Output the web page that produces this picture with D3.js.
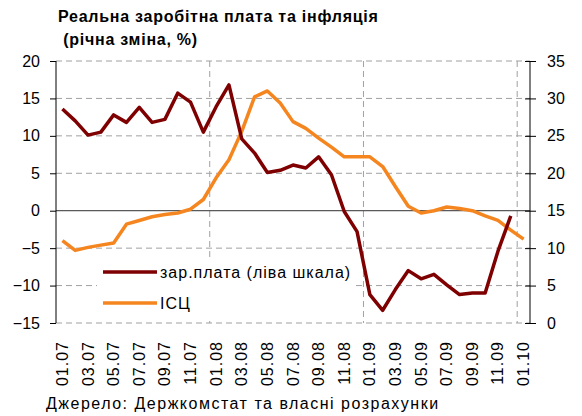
<!DOCTYPE html>
<html>
<head>
<meta charset="utf-8">
<script src="https://cdn.jsdelivr.net/npm/d3@7"></script>
<style>
  body { margin: 0; background: #fff; }
  svg { display: block; font-family: "Liberation Sans", Arial, sans-serif; }
</style>
</head>
<body>
<svg id="chart" width="582" height="416"></svg>
<script>
// months shown on the category axis
var months = ['01.07','02.07','03.07','04.07','05.07','06.07','07.07','08.07','09.07','10.07','11.07','12.07',
  '01.08','02.08','03.08','04.08','05.08','06.08','07.08','08.08','09.08','10.08','11.08','12.08',
  '01.09','02.09','03.09','04.09','05.09','06.09','07.09','08.09','09.09','10.09','11.09','12.09',
  '01.10'];

// real wage, % yoy (left scale)
var wage = [13.6, 12.0, 10.1, 10.5, 12.8, 11.8, 13.8, 11.8, 12.2, 15.7, 14.5, 10.5,
  13.9, 16.8, 9.6, 7.7, 5.1, 5.4, 6.1, 5.7, 7.2, 4.8, -0.1, -2.8,
  -11.2, -13.3, -10.5, -8.0, -9.1, -8.5, -9.9, -11.2, -11.0, -11.0, -5.4, -0.7];

// CPI, % yoy (right scale)
var cpi = [11.0, 9.7, 10.1, 10.4, 10.7, 13.2, 13.7, 14.2, 14.5, 14.7, 15.2, 16.5,
  19.4, 21.8, 25.6, 30.2, 31.0, 29.4, 26.9, 26.0, 24.7, 23.5, 22.2, 22.2,
  22.2, 20.9, 18.2, 15.6, 14.7, 15.0, 15.5, 15.3, 15.0, 14.3, 13.7, 12.4,
  11.2];

var leftTicks = [-15, -10, -5, 0, 5, 10, 15, 20];
var rightTicks = [0, 5, 10, 15, 20, 25, 30, 35];
var yearStarts = ['01.08', '01.09', '01.10'];

var seriesNames = ['зар.плата (ліва шкала)', 'ІСЦ'];
var colours = ['#7f0000', '#f5861f'];

var svg = d3.select('#chart');
var plotLeft = 56, plotRight = 530, plotTop = 61, plotBottom = 323;

var x = d3.scaleBand().domain(months).range([plotLeft, plotRight]).padding(0);
var yL = d3.scaleLinear().domain([-15, 20]).range([plotBottom, plotTop]);
var yR = d3.scaleLinear().domain([0, 35]).range([plotBottom, plotTop]);
var cx = function(i) { return x(months[i]) + x.bandwidth() / 2; };

// title
svg.append('text').attr('x', 58).attr('y', 22)
  .style('font-size', '16px').style('font-weight', 'bold').style('letter-spacing', '0.75px')
  .text('Реальна заробітна плата та інфляція');
svg.append('text').attr('x', 58).attr('y', 45)
  .style('font-size', '16px').style('font-weight', 'bold').style('letter-spacing', '0.75px')
  .attr('xml:space', 'preserve')
  .text(' (річна зміна, %)');

// horizontal grid
svg.append('g').selectAll('line')
  .data(leftTicks.filter(function(d) { return d !== 0; }))
  .enter().append('line')
  .attr('x1', plotLeft).attr('x2', plotRight)
  .attr('y1', function(d) { return yL(d); }).attr('y2', function(d) { return yL(d); })
  .style('stroke', '#a0a0a0').style('stroke-width', 1).style('stroke-dasharray', '6,4');

// vertical grid at year boundaries
svg.append('g').selectAll('line')
  .data(yearStarts)
  .enter().append('line')
  .attr('x1', function(d) { return x(d); }).attr('x2', function(d) { return x(d); })
  .attr('y1', plotTop).attr('y2', plotBottom)
  .style('stroke', '#a0a0a0').style('stroke-width', 1).style('stroke-dasharray', '6,4');

// zero line
svg.append('line')
  .attr('x1', plotLeft).attr('x2', plotRight).attr('y1', yL(0)).attr('y2', yL(0))
  .style('stroke', '#303030').style('stroke-width', 1);

// left axis
var axL = svg.append('g').attr('transform', 'translate(' + plotLeft + ',0)')
  .call(d3.axisLeft(yL).tickValues(leftTicks).tickSize(6).tickPadding(10));
axL.select('.domain').attr('d', 'M0,' + plotTop + 'V' + plotBottom).style('stroke', '#000');
axL.selectAll('text').attr('font-family', null).attr('font-size', null)
  .style('font-size', '16px').style('fill', '#000');

// right axis
var axR = svg.append('g').attr('transform', 'translate(' + plotRight + ',0)')
  .call(d3.axisRight(yR).tickValues(rightTicks).tickSize(6).tickPadding(11));
axR.select('.domain').attr('d', 'M0,' + plotTop + 'V' + plotBottom).style('stroke', '#000');
axR.selectAll('.tick line').attr('x1', -5);
axR.selectAll('text').attr('font-family', null).attr('font-size', null)
  .style('font-size', '16px').style('fill', '#000');

// category labels, every other month
svg.append('g').selectAll('text')
  .data(months.filter(function(d, i) { return i % 2 === 0; }))
  .enter().append('text')
  .attr('transform', function(d) {
    return 'translate(' + (x(d) + x.bandwidth() / 2 + 5.5) + ',341) rotate(-90)';
  })
  .attr('text-anchor', 'end')
  .style('font-size', '16px')
  .style('letter-spacing', '1px')
  .text(function(d) { return d; });

// legend box
svg.append('rect').attr('x', 97).attr('y', 257).attr('width', 259).attr('height', 60)
  .style('fill', '#fff');

var line = function(scale) {
  return d3.line()
    .x(function(d, i) { return cx(i); })
    .y(function(d) { return scale(d); });
};

svg.append('path').datum(cpi)
  .attr('d', line(yR))
  .style('fill', 'none').style('stroke', colours[1])
  .style('stroke-width', 3.5).style('stroke-linejoin', 'round');

svg.append('path').datum(wage)
  .attr('d', line(yL))
  .style('fill', 'none').style('stroke', colours[0])
  .style('stroke-width', 3.5).style('stroke-linejoin', 'round');

// legend
var leg = svg.append('g').selectAll('g')
  .data(seriesNames)
  .enter().append('g')
  .attr('transform', function(d, i) { return 'translate(103,' + (272 + i * 31) + ')'; });
leg.append('line').attr('x1', 0).attr('x2', 54)
  .style('stroke', function(d, i) { return colours[i]; }).style('stroke-width', 3.5);
leg.append('text').attr('x', 57).attr('y', 6)
  .style('font-size', '16px').style('letter-spacing', '1px')
  .text(function(d) { return d; });

// source
svg.append('text').attr('x', 46).attr('y', 409)
  .style('font-size', '16px').style('letter-spacing', '1.5px')
  .text('Джерело: Держкомстат та власні розрахунки');
</script>
</body>
</html>
